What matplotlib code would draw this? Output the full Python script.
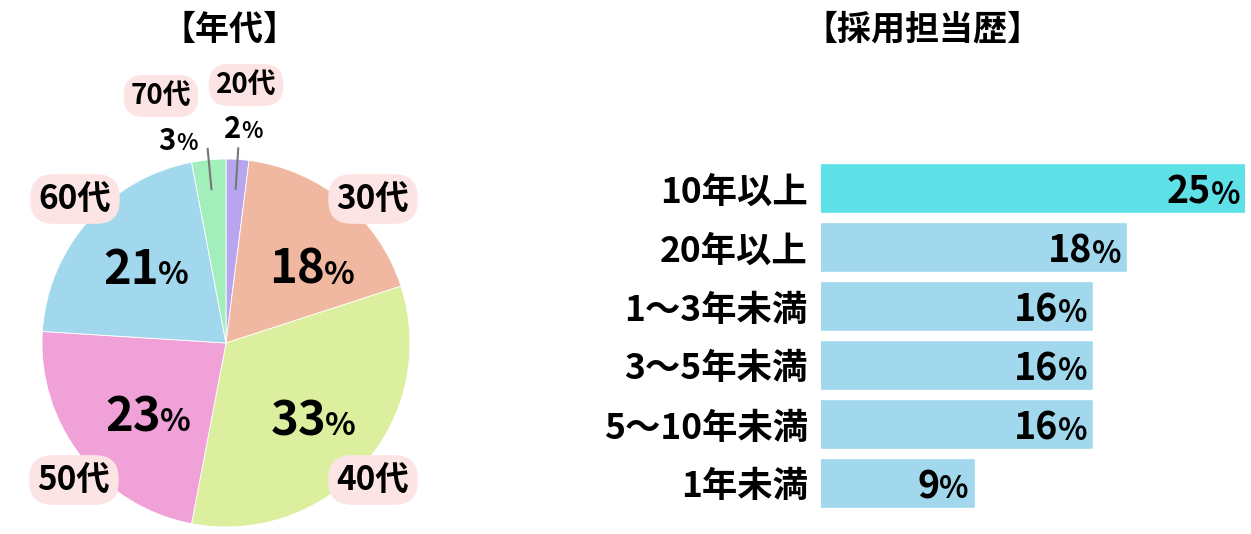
import numpy as np
import matplotlib.pyplot as plt

plt.rcParams['font.family'] = ['Noto Sans CJK JP', 'DejaVu Sans']

# age groups (pie)
age_labels = ['20代', '30代', '40代', '50代', '60代', '70代']
age_values = [2, 18, 33, 23, 21, 3]
age_colors = ['#b7a5ef', '#f0b8a0', '#dcef9f', '#f0a1d8', '#a2d8ee', '#a3efbb']

# years in recruiting (bars)
exp_labels = ['10年以上', '20年以上', '1〜3年未満', '3〜5年未満', '5〜10年未満', '1年未満']
exp_values = [25, 18, 16, 16, 16, 9]
exp_colors = ['#5ee1e6', '#a2d8ee', '#a2d8ee', '#a2d8ee', '#a2d8ee', '#a2d8ee']

W, H = 1251, 534
fig = plt.figure(figsize=(W / 100, H / 100), dpi=100)

# pie: centre (226, 343) px from top-left, radius 184 px
cx, cy, R = 226, 343, 184
side = 1.25 * R
ax_pie = fig.add_axes([(cx - side) / W, (H - cy - side) / H, 2 * side / W, 2 * side / H])
wedges, _ = ax_pie.pie(age_values, colors=age_colors, startangle=90, counterclock=False,
                       radius=1, wedgeprops=dict(edgecolor='white', linewidth=0.6))
ax_pie.set_xlim(-1.25, 1.25)
ax_pie.set_ylim(-1.25, 1.25)
ax_pie.axis('off')

# bars
ax_bar = fig.add_axes([821 / W, 21 / H, 424 / W, 354 / H])
ypos = np.arange(len(exp_values))
ax_bar.barh(ypos, exp_values, height=0.8, color=exp_colors, edgecolor=exp_colors,
            linewidth=1.2, joinstyle='round')
ax_bar.set_xlim(0, 25)
ax_bar.set_ylim(len(exp_values) - 0.5, -0.5)
ax_bar.set_yticks(ypos, exp_labels, fontsize=25.5, fontweight='bold')
ax_bar.tick_params(left=False, bottom=False, labelbottom=False, pad=6)
for s in ax_bar.spines.values():
    s.set_visible(False)

# overlay in pixel coordinates for annotations
ov = fig.add_axes([0, 0, 1, 1], facecolor='none')
ov.set_xlim(0, W)
ov.set_ylim(H, 0)
ov.axis('off')

renderer = fig.canvas.get_renderer()


def split_label(x, y, num, big, small, ha='center', gap=0):
    t1 = ov.text(x, y, num, fontsize=big, fontweight='bold', ha='left', va='baseline')
    t2 = ov.text(x, y, '%', fontsize=small, fontweight='bold', ha='left', va='baseline')
    w1 = t1.get_window_extent(renderer).width
    w2 = t2.get_window_extent(renderer).width
    total = w1 + gap + w2
    left = x - total / 2 if ha == 'center' else x - total
    t1.set_x(left)
    t2.set_x(left + w1 + gap)


ov.text(230, 29, '【年代】', fontsize=24.5, fontweight='bold', ha='center', va='center')
ov.text(922, 29, '【採用担当歴】', fontsize=24.5, fontweight='bold', ha='center', va='center')

# big percentages inside the pie
inner_pos = {1: (312, 284), 2: (313, 435), 3: (148, 431), 4: (146, 284)}
for i, (px, py) in inner_pos.items():
    split_label(px, py, str(age_values[i]), 34, 23, gap=-1)

# small percentages with leader lines
small_pos = {0: (243, 138), 5: (178, 150)}
for i, (px, py) in small_pos.items():
    split_label(px, py, str(age_values[i]), 21, 16)

for i in small_pos:
    w = wedges[i]
    mid = np.deg2rad((w.theta1 + w.theta2) / 2)
    r_in, r_out = 0.84, 1.06
    ax_pie.plot([r_in * np.cos(mid), r_out * np.cos(mid)],
                [r_in * np.sin(mid), r_out * np.sin(mid)], color='#777777', lw=1.5)

# category labels with pink boxes
cat_pos = {0: (246, 85, 20), 1: (373, 199, 24), 2: (373, 480, 24),
           3: (74, 480, 24), 4: (75, 199, 24), 5: (161, 96, 20)}
for i, (px, py, fs) in cat_pos.items():
    ov.text(px, py, age_labels[i], fontsize=fs, fontweight='bold', ha='center', va='center',
            bbox=dict(boxstyle='round,pad=0.25,rounding_size=0.7', fc='#fde4e4', ec='none'))

# bar value labels
for i, v in enumerate(exp_values):
    dx, dy = ax_bar.transData.transform((v, i))
    split_label(dx - 5, H - dy + 15, str(v), 27, 22, ha='right', gap=0)

fig.savefig('out.png', dpi=100)
